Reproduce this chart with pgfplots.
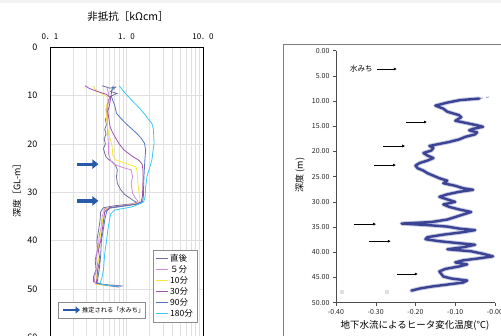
\documentclass[border=0pt]{standalone}
\usepackage{pgfplots}
\pgfplotsset{compat=1.18}
\usepackage{fontspec}
\setmainfont{Noto Sans CJK JP}
\usetikzlibrary{arrows.meta}
\definecolor{c0}{RGB}{110,110,160}
\definecolor{c5}{RGB}{205,140,215}
\definecolor{c10}{RGB}{250,230,60}
\definecolor{c30}{RGB}{160,80,175}
\definecolor{c90}{RGB}{85,115,195}
\definecolor{c180}{RGB}{60,200,240}
\definecolor{arrowblue}{RGB}{40,90,170}
\definecolor{navy}{RGB}{35,45,135}
\pgfplotstableread{
x d
-0.04 9.5
-0.088 9.8
-0.12 10.3
-0.15 10.9
-0.13 11.5
-0.12 12.1
-0.09 12.8
-0.085 13.2
-0.10 13.9
-0.075 14.3
-0.045 14.8
-0.03 15.1
-0.055 15.5
-0.065 15.8
-0.045 16.2
-0.05 16.6
-0.075 17.1
-0.09 17.6
-0.115 18.1
-0.14 18.5
-0.165 18.9
-0.155 19.3
-0.16 19.8
-0.18 20.3
-0.17 20.8
-0.155 21.3
-0.17 21.8
-0.19 22.3
-0.20 22.8
-0.195 23.3
-0.18 23.8
-0.17 24.3
-0.155 24.8
-0.14 25.3
-0.12 25.8
-0.13 26.3
-0.10 26.8
-0.08 27.3
-0.055 27.6
-0.09 28.0
-0.12 28.5
-0.14 29.0
-0.12 29.5
-0.10 30.0
-0.13 30.5
-0.115 31.0
-0.09 31.5
-0.06 32.0
-0.08 32.5
-0.10 33.0
-0.12 33.5
-0.16 34.0
-0.235 34.3
-0.17 34.6
-0.12 34.9
-0.09 35.3
-0.05 35.6
-0.08 36.0
-0.13 36.5
-0.17 37.0
-0.175 37.4
-0.14 37.8
-0.09 38.2
-0.05 38.5
-0.08 39.0
-0.12 39.4
-0.06 39.8
-0.03 40.3
-0.005 40.8
-0.04 41.2
-0.08 41.6
-0.10 42.0
-0.07 42.4
-0.09 42.8
-0.125 43.3
-0.14 43.8
-0.135 44.3
-0.13 44.8
-0.11 45.2
-0.07 45.6
-0.08 46.0
-0.12 46.4
-0.16 46.8
-0.19 47.2
-0.21 47.6
}\pathdata
\begin{document}
\begin{tikzpicture}
\useasboundingbox (0,0) rectangle (501pt,336pt);
\clip (0,0) rectangle (501pt,336pt);
\fill[black!5] (0,333pt) rectangle (501pt,336pt);
% ---------------- left chart
\begin{axis}[
  at={(50pt,289pt)}, anchor=north west,
  scale only axis, width=153pt, height=290.4pt,
  xmode=log, xmin=0.1, xmax=10, ymin=0, ymax=60, y dir=reverse,
  xtick={0.1,1,10}, xticklabels={0．1,1．0,10．0},
  xticklabel pos=upper,
  ytick={0,10,20,30,40,50,60}, yticklabels={0,10,20,30,40,50,60},
  major tick length=0pt, minor tick length=0pt,
  grid=both,
  major grid style={black!12, line width=0.4pt},
  minor grid style={black!12, line width=0.4pt},
  axis line style={black, line width=0.9pt},
  xticklabel style={font=\fontsize{8}{9}\selectfont, yshift=4pt},
  yticklabel style={font=\fontsize{9}{10}\selectfont, xshift=-9pt},
  legend cell align=left,
  legend style={at={(0.961,0.053)}, anchor=south east, draw=black!45, fill=white,
    font=\fontsize{8.5}{9}\selectfont, row sep=-1.5pt, inner sep=2pt},
  legend image code/.code={\draw[#1] (0cm,0cm) -- (0.42cm,0cm);},
  every axis plot/.append style={line width=0.8pt},
  clip=false,
]
\addplot[c0] coordinates {(0.48,8.0)(0.60,8.5)(0.72,8.3)(0.62,9.2)(0.75,9.6)(0.62,10.2)(0.58,11)(0.56,12)(0.54,13)(0.56,14)(0.53,15)(0.55,16)(0.52,17)(0.54,18)(0.51,19)(0.53,20)(0.50,21)(0.52,22)(0.54,22.7)(0.58,23.2)(0.66,23.8)(0.72,24.5)(0.76,25.4)(0.74,26.8)(0.76,28.2)(0.84,29.5)(0.95,30.5)(1.10,31.2)(1.25,31.8)(1.35,32.1)(1.2,32.4)(0.7,32.8)(0.50,33.2)(0.46,34)(0.45,36)(0.43,38)(0.41,40)(0.42,42)(0.39,44)(0.40,46)(0.37,47.5)(0.37,48.5)(0.50,49.1)(0.65,49.2)(0.90,49.4)};
\addlegendentry{直後}
\addplot[c5] coordinates {(0.55,8.2)(0.58,9.5)(0.60,10.5)(0.57,12)(0.56,14)(0.56,16)(0.57,18)(0.58,20)(0.58,22)(0.62,23.5)(0.70,24.3)(0.90,24.9)(1.15,25.4)(1.20,26.8)(1.15,28.2)(1.20,30.2)(1.30,31.2)(1.41,31.8)(1.30,32.3)(0.9,32.8)(0.52,33.4)(0.48,35)(0.47,37)(0.44,39)(0.43,41)(0.40,43)(0.42,45)(0.39,47)(0.38,48.5)(0.40,49)(0.60,49.3)(0.85,49.5)};
\addlegendentry{５分}
\addplot[c10] coordinates {(0.365,8.0)(0.40,9.0)(0.50,9.8)(0.57,10.3)(0.55,12.3)(0.54,13)(0.55,15.1)(0.58,17.8)(0.62,19.2)(0.65,20.6)(0.66,22.3)(0.72,23.3)(0.88,23.8)(1.15,24.4)(1.33,24.8)(1.38,25.8)(1.41,28.2)(1.46,30.2)(1.50,31.6)(1.45,32.2)(1.1,32.6)(0.55,33.4)(0.50,34.5)(0.48,36.5)(0.46,38.5)(0.44,40.5)(0.42,43)(0.44,45)(0.41,47)(0.40,48.5)(0.39,49)(0.55,49.3)(0.78,49.6)};
\addlegendentry{10分}
\addplot[c30] coordinates {(0.287,8.0)(0.33,8.6)(0.42,9.2)(0.55,9.8)(0.62,10.5)(0.60,12)(0.57,13.3)(0.59,15)(0.61,16.5)(0.65,17.5)(0.72,18.8)(0.80,20)(0.93,21.3)(1.20,22.6)(1.45,23.4)(1.60,24.2)(1.64,25.4)(1.65,26.8)(1.63,29)(1.62,30.9)(1.55,32)(1.3,32.5)(0.6,33.2)(0.52,34)(0.50,36)(0.48,38)(0.46,40)(0.43,42)(0.45,44)(0.42,46)(0.41,48)(0.40,48.8)(0.55,49.2)(0.80,49.6)};
\addlegendentry{30分}
\addplot[c90] coordinates {(0.67,8.0)(0.64,9.0)(0.63,10)(0.66,11)(0.70,12)(0.74,13.7)(0.85,14.8)(0.98,15.8)(1.15,16.8)(1.35,17.8)(1.55,18.8)(1.72,19.9)(1.78,21.3)(1.74,23.3)(1.69,26.8)(1.66,30.9)(1.62,32.0)(1.35,32.5)(0.60,33.3)(0.55,34)(0.52,35.7)(0.50,37.5)(0.47,40)(0.46,43)(0.44,46)(0.42,48)(0.41,48.8)(0.55,49.2)(0.75,49.5)};
\addlegendentry{90分}
\addplot[c180] coordinates {(0.80,8.0)(0.90,9.0)(1.02,10.0)(1.17,11.0)(1.35,12.0)(1.55,13.0)(1.75,14.0)(1.95,15.0)(2.15,15.8)(2.25,17)(2.29,19.9)(2.22,21.5)(2.15,23.3)(2.0,25)(1.85,26.8)(1.78,29)(1.75,30.9)(1.68,32.0)(1.55,32.3)(1.2,33.0)(0.70,33.7)(0.62,34.5)(0.60,35.7)(0.57,37.8)(0.55,39.9)(0.52,42.6)(0.50,46)(0.48,47.5)(0.46,48.5)(0.45,49.0)(0.60,49.3)(0.82,49.5)};
\addlegendentry{180分}
\draw[arrowblue, line width=3.2pt, -{Triangle[length=6pt,width=9pt]}] (axis cs:0.225,24.2) -- (axis cs:0.43,24.2);
\draw[arrowblue, line width=3.2pt, -{Triangle[length=6pt,width=9pt]}] (axis cs:0.225,31.8) -- (axis cs:0.43,31.8);
\end{axis}
\node[font=\fontsize{10.5}{11}\selectfont] at (128pt,319pt) {非抵抗［kΩcm］};
\node[rotate=90, font=\fontsize{9}{10}\selectfont] at (17pt,147.5pt) {深度［GL-m］};
\draw[black!45, fill=white] (58pt,18pt) rectangle (145pt,34pt);
\draw[arrowblue, line width=2.6pt, -{Triangle[length=4.5pt,width=7pt]}] (63pt,26pt) -- (80pt,26pt);
\node[anchor=west, font=\fontsize{6.2}{7}\selectfont, inner sep=0pt] at (82pt,26pt) {推定される「水みち」};
% ---------------- right chart
\draw[black!50, line width=0.8pt] (283pt,292pt) rectangle (540pt,-20pt);
\begin{axis}[
  at={(336pt,33.3pt)}, anchor=south west,
  scale only axis, width=159pt, height=252pt,
  xmin=-0.4, xmax=0, ymin=0, ymax=50, y dir=reverse,
  axis x line*=bottom, axis y line*=left,
  axis line style={black!70, line width=0.5pt},
  xtick={-0.4,-0.3,-0.2,-0.1,0}, xticklabels={-0.40,-0.30,-0.20,-0.10,-0.00},
  ytick={0,5,10,15,20,25,30,35,40,45,50},
  yticklabels={0.00,5.00,10.00,15.00,20.00,25.00,30.00,35.00,40.00,45.00,50.00},
  tick align=outside, major tick length=3pt,
  tick style={black!70, line width=0.5pt},
  ticklabel style={font=\fontsize{7}{8}\selectfont, text=black!85},
  clip=false,
]
\addplot[only marks, mark=square*, mark size=1.4pt, color=black!12] coordinates {(-0.386,47.8)(-0.272,47.8)};
\addplot[navy, opacity=0.4, line width=1pt, dashed] coordinates {(-0.015,9.2)(-0.04,9.5)(-0.088,9.8)};
\addplot[navy, opacity=0.25, line width=4.2pt, line join=round, line cap=round] table[x=x,y=d] {\pathdata};
\addplot[navy, opacity=0.85, line width=2.4pt, line join=round, line cap=round] table[x=x,y=d] {\pathdata};
\node[font=\fontsize{7.5}{8}\selectfont, inner sep=0pt] at (axis cs:-0.336,3.6) {水みち};
\draw[-{Latex[length=3pt,width=3pt]}, line width=0.6pt] (axis cs:-0.297,3.63) -- (axis cs:-0.247,3.63);
\draw[-{Latex[length=3pt,width=3pt]}, line width=0.6pt] (axis cs:-0.224,14.15) -- (axis cs:-0.171,14.15);
\draw[-{Latex[length=3pt,width=3pt]}, line width=0.6pt] (axis cs:-0.282,18.9) -- (axis cs:-0.226,18.9);
\draw[-{Latex[length=3pt,width=3pt]}, line width=0.6pt] (axis cs:-0.304,22.7) -- (axis cs:-0.249,22.7);
\draw[-{Latex[length=3pt,width=3pt]}, line width=0.6pt] (axis cs:-0.355,34.4) -- (axis cs:-0.299,34.4);
\draw[-{Latex[length=3pt,width=3pt]}, line width=0.6pt] (axis cs:-0.317,37.8) -- (axis cs:-0.262,37.8);
\draw[-{Latex[length=3pt,width=3pt]}, line width=0.6pt] (axis cs:-0.247,44.3) -- (axis cs:-0.194,44.3);
\end{axis}
\node[rotate=90, font=\fontsize{9}{10}\selectfont] at (300pt,161pt) {深度 (m)};
\node[font=\fontsize{9.5}{10}\selectfont] at (415pt,11pt) {地下水流によるヒータ変化温度(℃)};
\end{tikzpicture}
\end{document}
